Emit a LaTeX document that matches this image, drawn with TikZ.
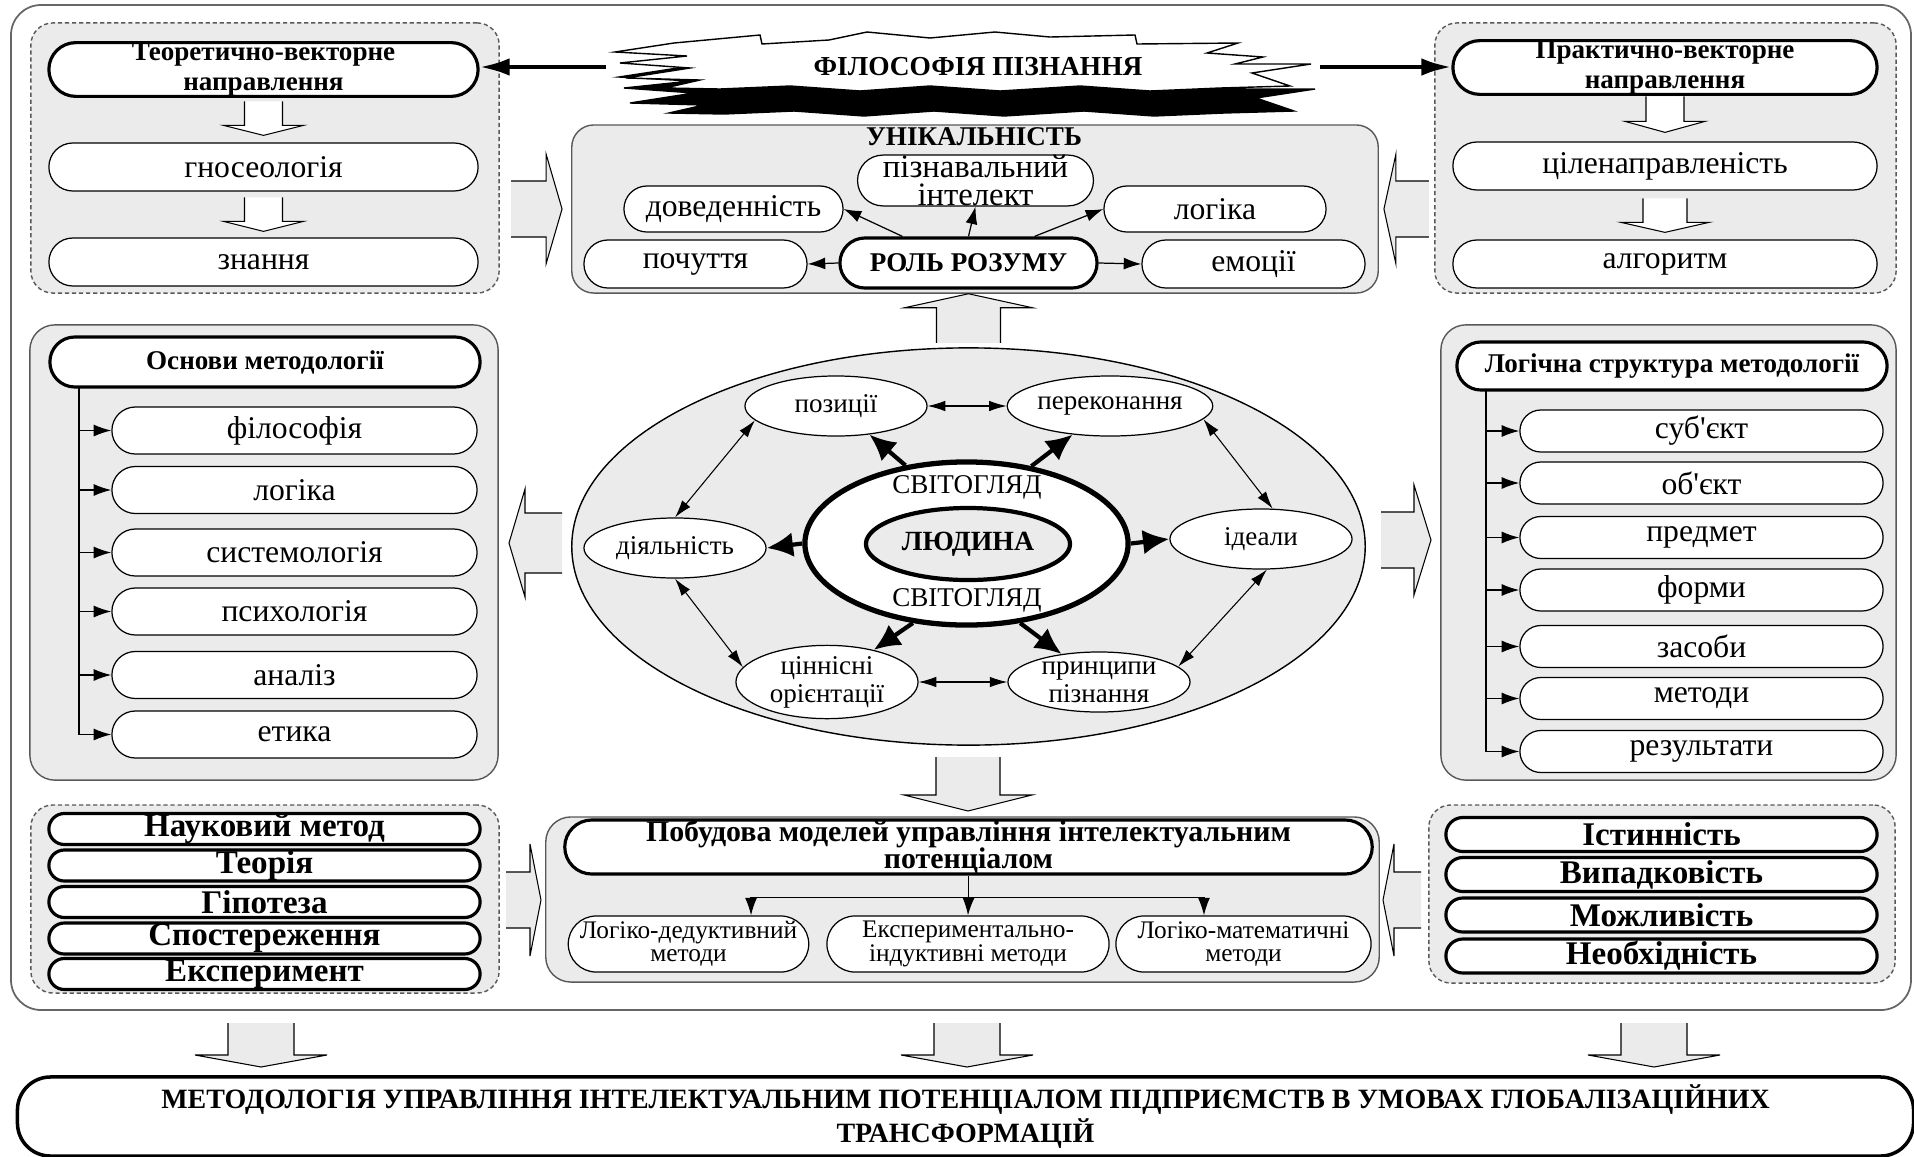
\documentclass[tikz,border=0pt]{standalone}
\usepackage{fontspec}
\setmainfont{Liberation Serif}
\usetikzlibrary{shapes.geometric,shapes.misc,arrows.meta,positioning}

\newcommand{\blockarr}[7][black!8]{%
  \begin{scope}[shift={#2},rotate=#3]
    \filldraw[fill=#1,draw=black,line width=0.3pt]
      (-#4,#7) -- (-#5,#7) -- (-#5,#6) -- (0,0) -- (-#5,-#6) -- (-#5,-#7) -- (-#4,-#7);
  \end{scope}}

\tikzset{
  grp/.style={rectangle,rounded corners=0.22cm,draw=black!65,fill=black!8,line width=0.4pt,inner sep=0pt},
  dgrp/.style={grp,dash pattern=on 1.2pt off 0.8pt},
  item/.style={rounded rectangle,draw,fill=white,line width=0.35pt,inner sep=0pt,align=center,font=\fontsize{9}{10}\selectfont},
  head/.style={item,line width=0.9pt,font=\bfseries\fontsize{7.7}{8.6}\selectfont},
  bolditem/.style={item,line width=0.9pt,font=\bfseries\fontsize{9.4}{10}\selectfont},
  meth/.style={item,font=\fontsize{7.2}{6.6}\selectfont},
  oval/.style={ellipse,draw,fill=white,line width=0.35pt,inner sep=0pt,minimum width=1.82cm,minimum height=0.6cm,align=center,font=\fontsize{7.7}{8}\selectfont},
  conn/.style={-{Latex[length=5pt,width=3.4pt]},line width=0.35pt},
  dconn/.style={{Latex[length=5pt,width=3pt]}-{Latex[length=5pt,width=3pt]},line width=0.3pt},
  fat/.style={-{Latex[length=7.5pt,width=7pt]},line width=1.2pt},
  bigarr/.style={-{Latex[length=8.5pt,width=5pt]},line width=1.2pt}
}

\begin{document}
\begin{tikzpicture}[x=0.01cm,y=-0.01cm]
\useasboundingbox (0,0) rectangle (1914,1157);
\draw[black!60,line width=0.5pt,rounded corners=0.3cm] (11,5) rectangle (1911,1010);

\node[dgrp,minimum width=4.68cm,minimum height=2.70cm] (tlgrp) at (265,158) {};
\node[head,minimum width=4.29cm,minimum height=0.51cm] (teor) at (263.5,69.5) {Теоретично-векторне\\направлення};
\node[item,minimum width=4.29cm,minimum height=0.48cm] (gnos) at (263.5,167) {гносеологія};
\node[item,minimum width=4.29cm,minimum height=0.48cm] (znan) at (263.5,262) {знання};
\blockarr[white]{([yshift=0.07cm]gnos.north)}{-90}{34}{10}{40}{19}
\blockarr[white]{([yshift=0.06cm]znan.north)}{-90}{34}{10}{40}{19}

\node[dgrp,minimum width=4.61cm,minimum height=2.70cm] (trgrp) at (1665.5,158) {};
\node[head,minimum width=4.24cm,minimum height=0.49cm] (prakt) at (1665,67.5) {Практично-векторне\\направлення};
\node[item,minimum width=4.24cm,minimum height=0.48cm] (cilen) at (1665,166) {ціленаправленість};
\node[item,minimum width=4.24cm,minimum height=0.48cm] (algor) at (1665,264) {алгоритм};
\blockarr[white]{([yshift=0.09cm]cilen.north)}{-90}{36}{11}{40}{19}
\blockarr[white]{([yshift=0.07cm]algor.north)}{-90}{34}{10}{44}{22}

\foreach \dx/\dy/\col in {4/25/black,0/0/white}
  \filldraw[fill=\col,line width=0.4pt,shift={(\dx,\dy)}] (674,43) -- (760,35) -- (762,44) -- (829,40) -- (867,32) -- (930,38) -- (995,32) -- (1050,37) -- (1135,35) -- (1137,44) -- (1238,43) -- (1207,53) -- (1263,57) -- (1235,64) -- (1311,64) -- (1252,73) -- (1290,86) -- (1220,88) -- (1150,91) -- (1080,86) -- (1000,91) -- (930,86) -- (860,91) -- (790,86) -- (720,89) -- (665,88) -- (700,80) -- (626,78) -- (690,68) -- (620,63) -- (687,56) -- (615,52) -- cycle;
\node[font=\bfseries\fontsize{7.8}{8}\selectfont] (phil) at (978,67) {ФІЛОСОФІЯ ПІЗНАННЯ};
\draw[bigarr] ([xshift=-1.95cm]phil.west) -- (phil.west -| teor.east);
\draw[bigarr] ([xshift=1.65cm]phil.east) -- (phil.east -| prakt.west);

\node[grp,minimum width=8.06cm,minimum height=1.68cm] (unik) at (975,209) {};
\node[font=\bfseries\fontsize{7.7}{8}\selectfont] (unikt) at (974,137) {УНІКАЛЬНІСТЬ};
\node[item,minimum width=2.17cm,minimum height=0.49cm,font=\fontsize{9.3}{8}\selectfont] (piz) at (975.5,180.5) {пізнавальний\\інтелект};
\node[item,minimum width=2.19cm,minimum height=0.46cm] (dov) at (733.5,209) {доведенність};
\node[item,minimum width=2.22cm,minimum height=0.46cm] (logu) at (1215,209) {логіка};
\node[item,minimum width=2.23cm,minimum height=0.48cm] (poch) at (695.5,264) {почуття};
\node[head,minimum width=2.57cm,minimum height=0.50cm] (rol) at (968.5,263) {РОЛЬ РОЗУМУ};
\node[item,minimum width=2.23cm,minimum height=0.48cm] (emoc) at (1253.5,264) {емоції};
\draw[conn] ([xshift=-0.66cm]rol.north) -- (dov.east);
\draw[conn] (rol.north) -- (piz.south);
\draw[conn] ([xshift=0.66cm]rol.north) -- (logu.west);
\draw[conn] (rol.west) -- (poch.east);
\draw[conn] (rol.east) -- (emoc.west);
\blockarr{([xshift=-0.09cm]unik.west)}{0}{51}{16}{55}{28}
\blockarr{([xshift=0.05cm]unik.east)}{180}{45}{12}{55}{28}

\node[ellipse,draw,fill=black!8,line width=0.4pt,inner sep=0pt,minimum width=7.93cm,minimum height=3.97cm] (world) at (968.5,546.5) {};
\blockarr{(unik.south -| world.north)}{90}{49}{14}{64}{32}
\node[ellipse,draw,fill=white,line width=1.5pt,inner sep=0pt,minimum width=3.23cm,minimum height=1.63cm] (svit) at (966.5,543.5) {};
\node[font=\fontsize{7.7}{8}\selectfont] (svt1) at (967,487) {СВІТОГЛЯД};
\node[font=\fontsize{7.7}{8}\selectfont] (svt2) at (967,600) {СВІТОГЛЯД};
\node[ellipse,draw,fill=black!8,line width=1.2pt,inner sep=0pt,minimum width=2.04cm,minimum height=0.72cm,font=\bfseries\fontsize{7.9}{8}\selectfont] (lud) at (968,544) {ЛЮДИНА};
\node[oval] (pozi) at (836,406) {позиції};
\node[oval] (pere) at (1110,406) {переконання};
\node[oval] (diial) at (675,548) {діяльність};
\node[oval] (ideal) at (1261,539) {ідеали};
\node[oval] (cinn) at (827,682) {ціннісні\\орієнтації};
\node[oval] (prin) at (1099,682) {принципи\\пізнання};
\draw[fat] (svit.128) -- (pozi);
\draw[fat] (svit.50) -- (pere);
\draw[fat] (svit.west) -- (diial.east);
\draw[fat] (svit.east) -- (ideal.west);
\draw[fat] (svit.-124) -- (cinn);
\draw[fat] (svit.-56) -- (prin);
\draw[dconn] (pozi) -- (pere);
\draw[dconn] (pozi.190) -- (diial.north);
\draw[dconn] (diial.south) -- (cinn.170);
\draw[dconn] (cinn) -- (prin);
\draw[dconn] (prin.11) -- (ideal.-79);
\draw[dconn] (pere.-8) -- (ideal.69);
\blockarr{(509,543)}{180}{53}{16}{54}{30}
\blockarr{(1431,540)}{0}{50}{17}{55}{28}

\node[grp,minimum width=4.68cm,minimum height=4.55cm,rounded corners=0.25cm] (osngrp) at (264,552.5) {};
\node[head,minimum width=4.30cm,minimum height=0.50cm] (osn) at (265,362) {Основи методології};
\foreach \yy/\t [count=\i] in {430.5/філософія,490/логіка,552.5/системологія,611.5/психологія,675/аналіз,734.5/етика}
  \node[item,minimum width=3.65cm,minimum height=0.47cm] (o\i) at (294.5,\yy) {\t};
\coordinate (otr) at (79,387);
\draw[line width=0.35pt] (otr) -- (otr |- o6.west);
\foreach \i in {1,...,6}
  \draw[conn] (otr |- o\i.west) -- (o\i.west);

\node[grp,minimum width=4.55cm,minimum height=4.55cm,rounded corners=0.25cm] (lgrp) at (1668.5,552.5) {};
\node[head,minimum width=4.30cm,minimum height=0.48cm] (lstr) at (1672,366) {Логічна структура методології};
\foreach \yy/\t [count=\i] in {431/суб\textquotesingle єкт,483/об\textquotesingle єкт,537.5/предмет,590/форми,646.5/засоби,698.5/методи,751.5/результати}
  \node[item,minimum width=3.63cm,minimum height=0.42cm] (l\i) at (1701.5,\yy) {\t};
\coordinate (ltr) at (1486,390);
\draw[line width=0.35pt] (ltr) -- (ltr |- l7.west);
\foreach \i in {1,...,7}
  \draw[conn] (ltr |- l\i.west) -- (l\i.west);

\node[dgrp,minimum width=4.68cm,minimum height=1.88cm] (blgrp) at (265,899) {};
\foreach \yy/\t [count=\i] in {829/Науковий метод,865.5/Теорія,902/Гіпотеза,938.5/Спостереження,974/Експеримент}
  \node[bolditem,minimum width=4.31cm,minimum height=0.31cm] (m\i) at (264.5,\yy) {\t};

\node[dgrp,minimum width=4.66cm,minimum height=1.78cm] (brgrp) at (1662,894) {};
\foreach \yy/\t [count=\i] in {834.5/Істинність,874.5/Випадковість,915/Можливість,956/Необхідність}
  \node[bolditem,minimum width=4.31cm,minimum height=0.34cm] (k\i) at (1661.5,\yy) {\t};

\node[grp,minimum width=8.33cm,minimum height=1.65cm,rounded corners=0.25cm] (modgrp) at (962.5,899.5) {};
\node[head,minimum width=8.07cm,minimum height=0.50cm,font=\bfseries\fontsize{8.5}{7.8}\selectfont] (pobud) at (968.5,847) {Побудова моделей управління інтелектуальним\\потенціалом};
\node[meth,minimum width=2.39cm,minimum height=0.56cm] (pm1) at (688.5,944) {Логіко-дедуктивний\\методи};
\node[meth,minimum width=2.82cm,minimum height=0.56cm] (pm2) at (968,944) {Експериментально-\\індуктивні методи};
\node[meth,minimum width=2.55cm,minimum height=0.56cm] (pm3) at (1243.5,944) {Логіко-математичні\\методи};
\coordinate (bj) at ([yshift=-0.22cm]pobud.south);
\draw[line width=0.35pt] (pobud.south) -- (bj);
\draw[conn] (bj) -| ([xshift=0.625cm]pm1.north);
\draw[conn] (bj) -- (pm2.north);
\draw[conn] (bj) -| ([xshift=-0.395cm]pm3.north);
\blockarr{(968,811)}{-90}{54}{16}{64}{32}
\blockarr{(541,900)}{0}{35}{11}{56}{28}
\blockarr{(1383,900)}{180}{38}{11}{56}{28}

\node[draw,line width=1pt,rounded corners=0.33cm,inner sep=0pt,minimum width=18.95cm,minimum height=0.79cm,align=center,font=\bfseries\fontsize{7.95}{8}\selectfont] (final) at (965.5,1116.5) {МЕТОДОЛОГІЯ УПРАВЛІННЯ ІНТЕЛЕКТУАЛЬНИМ ПОТЕНЦІАЛОМ ПІДПРИЄМСТВ В УМОВАХ ГЛОБАЛІЗАЦІЙНИХ\\ТРАНСФОРМАЦІЙ};
\foreach \xx in {261,967,1654}
  {\blockarr{(\xx,1067)}{-90}{44}{12}{66}{33}}
\end{tikzpicture}
\end{document}
